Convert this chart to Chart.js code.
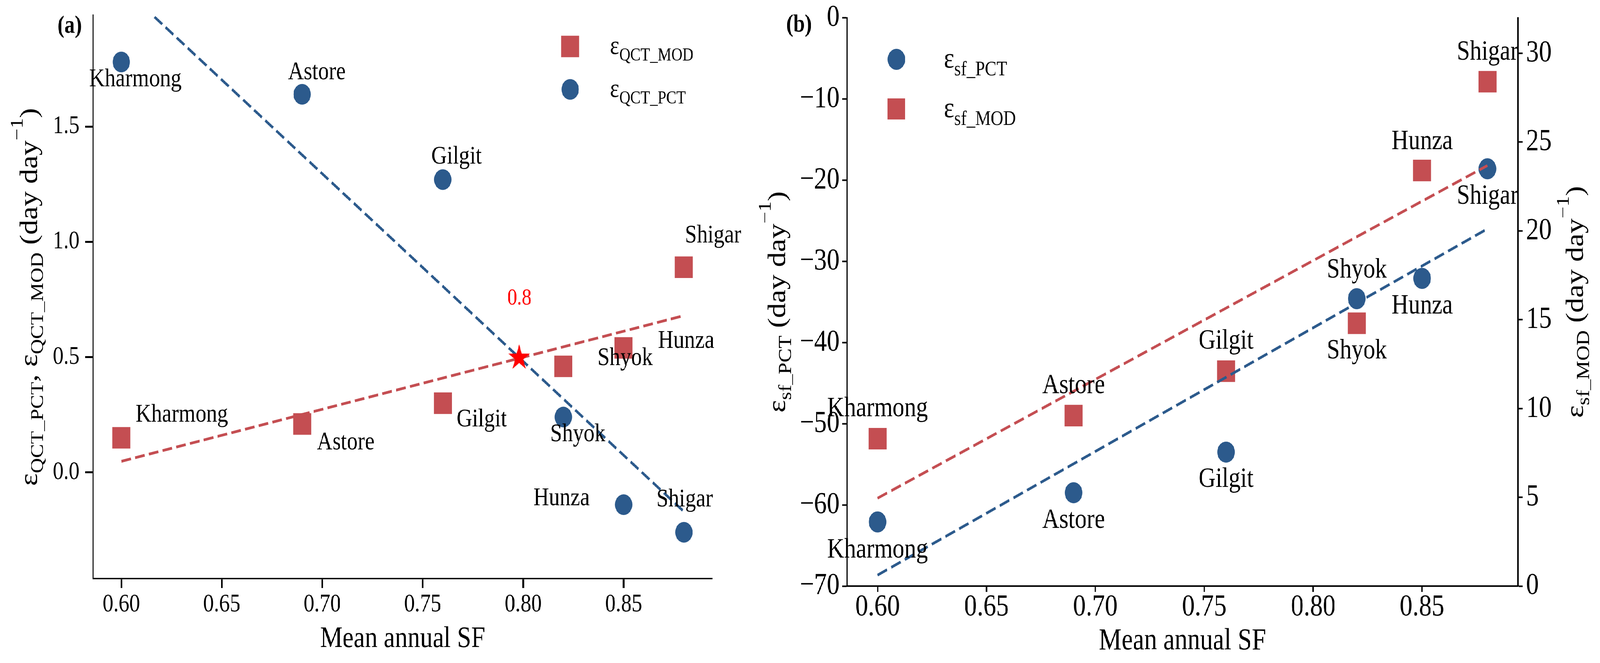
<!DOCTYPE html>
<html><head><meta charset="utf-8">
<script src="https://cdn.jsdelivr.net/npm/chart.js@4.4.0/dist/chart.umd.min.js"></script>
<style>
html,body{margin:0;padding:0;background:#fff;overflow:hidden}
#wrap{position:absolute;left:0;top:0;width:4894px;height:1698px;transform-origin:0 0}
#wrap canvas{position:absolute;left:0;top:0}
</style></head><body>
<div id="wrap">
<canvas id="ca" width="4894" height="1698"></canvas>
<canvas id="cb" width="4894" height="1698"></canvas>
</div>
<script>
// ---------------- data ----------------
const stations = ['Kharmong', 'Astore', 'Gilgit', 'Shyok', 'Hunza', 'Shigar'];
const meanAnnualSF = [0.60, 0.69, 0.76, 0.82, 0.85, 0.88];

// panel (a)
const epsQctPct = [1.78, 1.64, 1.27, 0.24, -0.14, -0.26];
const epsQctMod = [0.15, 0.21, 0.30, 0.46, 0.54, 0.89];
const fitSF = [0.60, 0.88];
const fitQctPct = [2.11, -0.17];
const fitQctMod = [0.048, 0.68];
const crossSF = [0.798];
const crossEps = [0.497];
const crossLabel = '0.8';

// panel (b)
const epsSfPct = [-62.1, -58.5, -53.5, -34.6, -32.1, -18.6];
const epsSfMod = [8.3, 9.6, 12.1, 14.8, 23.4, 28.4];
const fitSfPct = [-68.65, -26.0];
const fitSfMod = [4.95, 23.68];

// ticks / axis ranges
const sfTicks = [0.60, 0.65, 0.70, 0.75, 0.80, 0.85];
const sfRange = [0.586, 0.894];
const qctTicks = [0.0, 0.5, 1.0, 1.5];
const qctRange = [-0.461, 1.983];
const sfPctTicks = [-70, -60, -50, -40, -30, -20, -10, 0];
const sfPctRange = [-70, 0];
const sfModTicks = [0, 5, 10, 15, 20, 25, 30];
const sfModRange = [0, 32.0];

// ---------------- page fit ----------------
const W = 4894, H = 1698;
const kx = window.innerWidth / W, ky = window.innerHeight / H;
document.getElementById('wrap').style.transform = `scale(${kx}, ${ky})`;
const DPR = (window.devicePixelRatio || 1) * Math.max(kx, ky);

// ---------------- styles ----------------
const FAM = "'Liberation Serif', 'Times New Roman', serif";
const BLUE = '#2c5a8c';
const RED = '#c44e52';

const pts = (xs, ys) => xs.map((x, i) => ({x, y: ys[i]}));

function starImage(R) {
  const c = document.createElement('canvas');
  const s = Math.ceil(R * 2 + 4);
  c.width = s; c.height = s;
  const g = c.getContext('2d');
  g.fillStyle = '#ff0000';
  g.beginPath();
  const r = R * 0.382;
  for (let k = 0; k < 10; k++) {
    const rad = k % 2 === 0 ? R : r;
    const a = -Math.PI / 2 + k * Math.PI / 5;
    const px = s / 2 + rad * Math.cos(a), py = s / 2 + rad * Math.sin(a);
    k === 0 ? g.moveTo(px, py) : g.lineTo(px, py);
  }
  g.closePath();
  g.fill();
  return c;
}

function fixW(w) { return s => { s.width = w; s.paddingTop = 0; s.paddingBottom = 0; s.paddingLeft = 0; s.paddingRight = 0; }; }
function fixH(h) { return s => { s.height = h; s.paddingTop = 0; s.paddingBottom = 0; s.paddingLeft = 0; s.paddingRight = 0; }; }
function setTicks(arr) { return s => { s.ticks = arr.map(v => ({value: v})); }; }

function richWidth(ctx, parts) {
  let w = 0;
  for (const p of parts) { ctx.font = `${p.b ? 'bold ' : ''}${p.s}px ${FAM}`; w += ctx.measureText(p.t).width; }
  return w;
}
function drawRich(ctx, parts, x, y, align) {
  const w = richWidth(ctx, parts);
  let cx = align === 'center' ? x - w / 2 : x;
  ctx.textAlign = 'left';
  ctx.textBaseline = 'alphabetic';
  for (const p of parts) {
    ctx.font = `${p.b ? 'bold ' : ''}${p.s}px ${FAM}`;
    ctx.fillText(p.t, cx, y + (p.dy || 0));
    cx += ctx.measureText(p.t).width;
  }
}
function drawRotRich(ctx, parts, baseX, centerY) {
  ctx.save();
  ctx.translate(baseX, centerY);
  ctx.rotate(-Math.PI / 2);
  drawRich(ctx, parts, 0, 0, 'center');
  ctx.restore();
}
function unitParts(B, S) {
  return [{t: ' (', s: B}, {t: 'day day', s: B}, {t: '\u22121', s: S, dy: -44}, {t: ')', s: B}];
}

function scatterDS(label, xs, ys, color, style, radius, yAxisID) {
  return {type: 'scatter', label, data: pts(xs, ys), yAxisID,
    pointStyle: style, pointRadius: radius, pointHoverRadius: radius,
    pointBackgroundColor: color, pointBorderWidth: 0, borderWidth: 0, showLine: false, order: 2};
}
function lineDS(label, xs, ys, color, width, dash, yAxisID) {
  return {type: 'line', label, data: pts(xs, ys), yAxisID,
    borderColor: color, borderWidth: width, borderDash: dash, borderCapStyle: 'butt', pointRadius: 0,
    fill: false, tension: 0, order: 1};
}

function axisStyle(o) {
  return {
    type: 'linear', position: o.position, min: o.range[0], max: o.range[1],
    afterBuildTicks: setTicks(o.ticks),
    afterFit: o.fit,
    grid: {display: true, drawOnChartArea: false, drawTicks: true, tickLength: o.tl, tickWidth: o.tw, tickColor: '#000'},
    border: {display: true, color: '#000', width: o.bw},
    ticks: {color: '#000', padding: o.pad, font: {family: FAM, size: o.fs, lineHeight: 1},
      callback: o.fmt, maxRotation: 0, autoSkip: false},
    title: {display: false}
  };
}
const minusFmt = v => (v < 0 ? '\u2212' + Math.abs(v) : String(v));

// ---------------- panel (a) ----------------
const labOffA = {
  pct: [[43, 62], [45, -39], [42, -41], [44, 62], [-190, 2], [2, -66]],
  mod: [[185, -41], [133, 65], [119, 59], [189, -3], [191, 0], [89, -63]]
};

const textA = {
  id: 'textA',
  afterDraw(chart) {
    const ctx = chart.ctx, xs = chart.scales.x, ys = chart.scales.y, ca = chart.chartArea;
    ctx.save();
    ctx.fillStyle = '#000';
    ctx.font = `66px ${FAM}`;
    ctx.textAlign = 'center'; ctx.textBaseline = 'alphabetic';
    stations.forEach((n, i) => {
      const px = xs.getPixelForValue(meanAnnualSF[i]);
      ctx.fillText(n, px + labOffA.pct[i][0], ys.getPixelForValue(epsQctPct[i]) + labOffA.pct[i][1]);
      ctx.fillText(n, px + labOffA.mod[i][0], ys.getPixelForValue(epsQctMod[i]) + labOffA.mod[i][1]);
    });
    ctx.fillStyle = '#ff0000';
    ctx.font = `59px ${FAM}`;
    ctx.fillText(crossLabel, xs.getPixelForValue(crossSF[0]) + 1, ys.getPixelForValue(crossEps[0]) - 136);
    ctx.fillStyle = '#000';
    ctx.font = `bold 64px ${FAM}`;
    ctx.fillText('(a)', 213, 84);
    ctx.font = `77px ${FAM}`;
    ctx.fillText('Mean annual SF', (ca.left + ca.right) / 2, 1657);
    const B = 77, S = 54;
    drawRotRich(ctx, [{t: '\u03b5', s: B}, {t: 'QCT_PCT', s: S, dy: 18}, {t: ', ', s: B},
      {t: '\u03b5', s: B}, {t: 'QCT_MOD', s: S, dy: 18}].concat(unitParts(B, S)), 113, (ca.top + ca.bottom) / 2);
    const lx = 1744;
    ctx.fillStyle = RED; ctx.fillRect(lx - 27.5, 119 - 27.5, 55, 55);
    ctx.fillStyle = BLUE; ctx.beginPath(); ctx.arc(lx, 229, 26.5, 0, Math.PI * 2); ctx.fill();
    ctx.fillStyle = '#000';
    drawRich(ctx, [{t: '\u03b5', s: 67}, {t: 'QCT_MOD', s: 47, dy: 17}], 1866, 138, 'left');
    drawRich(ctx, [{t: '\u03b5', s: 67}, {t: 'QCT_PCT', s: 47, dy: 17}], 1866, 248, 'left');
    ctx.restore();
  }
};

new Chart(document.getElementById('ca'), {
  data: {datasets: [
    scatterDS('εQCT_MOD', meanAnnualSF, epsQctMod, RED, 'rect', 39, 'y'),
    scatterDS('εQCT_PCT', meanAnnualSF, epsQctPct, BLUE, 'circle', 26.5, 'y'),
    lineDS('fit MOD', fitSF, fitQctMod, RED, 7, [30, 13], 'y'),
    lineDS('fit PCT', fitSF, fitQctPct, BLUE, 7, [30, 13], 'y'),
    {type: 'scatter', label: 'crossing', data: pts(crossSF, crossEps), yAxisID: 'y',
      pointStyle: starImage(34.5), pointRadius: 35, order: 0}
  ]},
  options: {
    responsive: false, animation: false, devicePixelRatio: DPR, events: [],
    layout: {padding: {left: 0, top: 29, right: W - 2178, bottom: 0}},
    plugins: {legend: {display: false}, tooltip: {enabled: false}},
    scales: {
      x: axisStyle({position: 'bottom', range: sfRange, ticks: sfTicks, fit: fixH(H - 1482),
        tl: 24, tw: 5, bw: 3.5, pad: 10, fs: 65, fmt: v => v.toFixed(2)}),
      y: axisStyle({position: 'left', range: qctRange, ticks: qctTicks, fit: fixW(285),
        tl: 24, tw: 5, bw: 3.5, pad: 18, fs: 65, fmt: v => v.toFixed(1)})
    }
  },
  plugins: [textA]
});

// ---------------- panel (b) ----------------
const labOffB = {
  pct: [[0, 91], [0, 90], [0, 89], [0, -54], [0, 90], [0, 90]],
  mod: [[0, -57], [0, -57], [0, -58], [0, 90], [0, -55], [0, -56]]
};

const textB = {
  id: 'textB',
  afterDraw(chart) {
    const ctx = chart.ctx, xs = chart.scales.x, yl = chart.scales.y, yr = chart.scales.y2, ca = chart.chartArea;
    ctx.save();
    ctx.fillStyle = '#000';
    ctx.font = `72px ${FAM}`;
    ctx.textAlign = 'center'; ctx.textBaseline = 'alphabetic';
    stations.forEach((n, i) => {
      const px = xs.getPixelForValue(meanAnnualSF[i]);
      ctx.fillText(n, px + labOffB.pct[i][0], yl.getPixelForValue(epsSfPct[i]) + labOffB.pct[i][1]);
      ctx.fillText(n, px + labOffB.mod[i][0], yr.getPixelForValue(epsSfMod[i]) + labOffB.mod[i][1]);
    });
    ctx.font = `bold 64px ${FAM}`;
    ctx.fillText('(b)', 2444, 81);
    ctx.font = `78px ${FAM}`;
    ctx.fillText('Mean annual SF', (ca.left + ca.right) / 2, 1663);
    const B = 77, S = 54;
    const cy = (ca.top + ca.bottom) / 2;
    drawRotRich(ctx, [{t: '\u03b5', s: B}, {t: 'sf_PCT', s: S, dy: 18}].concat(unitParts(B, S)), 2401, cy);
    drawRotRich(ctx, [{t: '\u03b5', s: B}, {t: 'sf_MOD', s: S, dy: 18}].concat(unitParts(B, S)), 4842, cy);
    const lx = 2742;
    ctx.fillStyle = BLUE; ctx.beginPath(); ctx.arc(lx, 152, 27, 0, Math.PI * 2); ctx.fill();
    ctx.fillStyle = RED; ctx.fillRect(lx - 27, 279 - 27, 54, 54);
    ctx.fillStyle = '#000';
    drawRich(ctx, [{t: '\u03b5', s: 75}, {t: 'sf_PCT', s: 53, dy: 20}], 2887, 173, 'left');
    drawRich(ctx, [{t: '\u03b5', s: 75}, {t: 'sf_MOD', s: 53, dy: 20}], 2887, 300, 'left');
    ctx.restore();
  }
};

new Chart(document.getElementById('cb'), {
  data: {datasets: [
    scatterDS('εsf_PCT', meanAnnualSF, epsSfPct, BLUE, 'circle', 27, 'y'),
    scatterDS('εsf_MOD', meanAnnualSF, epsSfMod, RED, 'rect', 39, 'y2'),
    lineDS('fit PCT', fitSF, fitSfPct, BLUE, 7, [32, 14], 'y'),
    lineDS('fit MOD', fitSF, fitSfMod, RED, 7, [32, 14], 'y2')
  ]},
  options: {
    responsive: false, animation: false, devicePixelRatio: DPR, events: [],
    layout: {padding: {left: 0, top: 45.5, right: 0, bottom: 0}},
    plugins: {legend: {display: false}, tooltip: {enabled: false}},
    scales: {
      x: axisStyle({position: 'bottom', range: sfRange, ticks: sfTicks, fit: fixH(H - 1501),
        tl: 15, tw: 4, bw: 4, pad: 1, fs: 78, fmt: v => v.toFixed(2)}),
      y: axisStyle({position: 'left', range: sfPctRange, ticks: sfPctTicks, fit: fixW(2591),
        tl: 15, tw: 4, bw: 4, pad: 8, fs: 78, fmt: minusFmt}),
      y2: axisStyle({position: 'right', range: sfModRange, ticks: sfModTicks, fit: fixW(W - 4643),
        tl: 15, tw: 4, bw: 4, pad: 10, fs: 78, fmt: minusFmt})
    }
  },
  plugins: [textB]
});
</script>
</body></html>
